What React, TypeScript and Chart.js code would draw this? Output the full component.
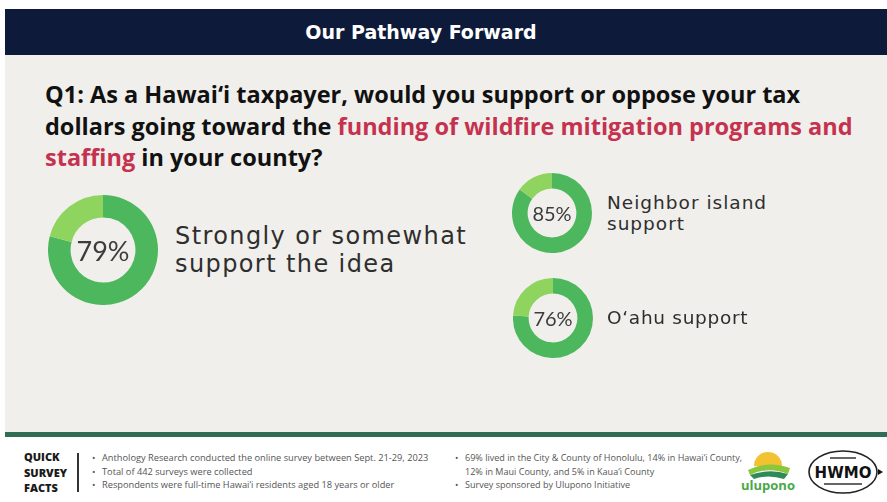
import React, { useEffect, useRef } from "react";
import { Chart, registerables } from "chart.js";
Chart.register(...registerables);

const categories = ["Strongly or somewhat\nsupport the idea", "Neighbor island\nsupport", "O\u2018ahu support"];
const supportPct = [79, 85, 76];
const otherPct = [21, 15, 24];
const pctLabels = ["79%", "85%", "76%"];
const segmentColors = ["#4db75d", "#8fd45e"];

const factsLeft = [
  "Anthology Research conducted the online survey between Sept. 21-29, 2023",
  "Total of 442 surveys were collected",
  "Respondents were full-time Hawai\u2018i residents aged 18 years or older",
];
const factsRight = [
  "69% lived in the City & County of Honolulu, 14% in Hawai\u2018i County,\n12% in Maui County, and 5% in Kaua\u2018i County",
  "Survey sponsored by Ulupono Initiative",
];

type DonutProps = { idx: number; left: number; top: number; size: number; cutout: string; fontSize: number };

function Donut({ idx, left, top, size, cutout, fontSize }: DonutProps) {
  const ref = useRef<HTMLCanvasElement>(null);
  useEffect(() => {
    const chart = new Chart(ref.current!, {
      type: "doughnut",
      data: {
        labels: ["Support", "Other"],
        datasets: [{ data: [supportPct[idx], otherPct[idx]], backgroundColor: segmentColors, borderWidth: 0 }],
      },
      options: {
        responsive: false,
        animation: false,
        cutout,
        layout: { padding: 0 },
        plugins: { legend: { display: false }, tooltip: { enabled: false } },
      },
    });
    return () => chart.destroy();
  }, [idx, cutout]);
  return (
    <div style={{ position: "absolute", left, top, width: size, height: size }}>
      <canvas ref={ref} width={size} height={size} style={{ width: size, height: size, display: "block" }} />
      <div
        style={{
          position: "absolute",
          left: 0,
          top: 0,
          width: size,
          height: size,
          display: "flex",
          alignItems: "center",
          justifyContent: "center",
          fontFamily: "Lato, sans-serif",
          fontSize,
          color: "#3c3c3c",
        }}
      >
        {pctLabels[idx]}
      </div>
    </div>
  );
}

export default function App() {
  useEffect(() => {
    document.body.style.margin = "0";
  }, []);
  const q: React.CSSProperties = { color: "#111" };
  const red: React.CSSProperties = { color: "#c5324f" };
  const facts: React.CSSProperties = {
    position: "absolute",
    top: 451,
    fontFamily: "'Open Sans', sans-serif",
    lineHeight: "13.5px",
    color: "#555",
  };
  return (
    <div style={{ position: "relative", width: 887, height: 502, overflow: "hidden", background: "#ffffff" }}>
      {/* header */}
      <div style={{ position: "absolute", left: 5, top: 9, width: 882, height: 46, background: "#0e1a39" }} />
      <div
        style={{
          position: "absolute",
          left: 0,
          top: 9,
          width: 842,
          height: 46,
          lineHeight: "46px",
          textAlign: "center",
          color: "#fff",
          fontFamily: "'DejaVu Sans', sans-serif",
          fontWeight: 700,
          fontSize: 19,
        }}
      >
        Our Pathway Forward
      </div>
      {/* main panel */}
      <div style={{ position: "absolute", left: 5, top: 55, width: 882, height: 377, background: "#f0efeb" }} />
      <div style={{ position: "absolute", left: 5, top: 432, width: 882, height: 5, background: "#2f6d55" }} />
      {/* question */}
      <div
        style={{
          position: "absolute",
          left: 45,
          top: 79,
          width: 840,
          fontFamily: "'Open Sans', sans-serif",
          fontWeight: 700,
          fontSize: 23.5,
          lineHeight: "31.5px",
          whiteSpace: "pre",
        }}
      >
        <span style={q}>Q1: As a Hawai{"\u2018"}i taxpayer, would you support or oppose your tax</span>
        {"\n"}
        <span style={q}>dollars going toward the </span>
        <span style={red}>funding of wildfire mitigation programs and</span>
        {"\n"}
        <span style={red}>staffing</span>
        <span style={q}> in your county?</span>
      </div>
      {/* donuts */}
      <Donut idx={0} left={48} top={195} size={110} cutout="59%" fontSize={27} />
      <Donut idx={1} left={512} top={173} size={80} cutout="61%" fontSize={20} />
      <Donut idx={2} left={513} top={278} size={80} cutout="61%" fontSize={20} />
      {/* labels */}
      <div
        style={{
          position: "absolute",
          left: 175,
          top: 222,
          fontFamily: "'DejaVu Sans', sans-serif",
          fontSize: 24,
          lineHeight: "28px",
          letterSpacing: 1.4,
          color: "#2e2e2e",
          whiteSpace: "pre",
        }}
      >
        {categories[0]}
      </div>
      <div
        style={{
          position: "absolute",
          left: 607,
          top: 192,
          fontFamily: "'DejaVu Sans', sans-serif",
          fontSize: 18.5,
          lineHeight: "21px",
          letterSpacing: 1.0,
          color: "#2e2e2e",
          whiteSpace: "pre",
        }}
      >
        {categories[1]}
      </div>
      <div
        style={{
          position: "absolute",
          left: 607,
          top: 307,
          fontFamily: "'DejaVu Sans', sans-serif",
          fontSize: 18.5,
          lineHeight: "21px",
          letterSpacing: 0.7,
          color: "#2e2e2e",
          whiteSpace: "pre",
        }}
      >
        {categories[2]}
      </div>
      {/* footer */}
      <div
        style={{
          position: "absolute",
          left: 24,
          top: 449,
          fontFamily: "'Open Sans', sans-serif",
          fontWeight: 800,
          fontSize: 11,
          lineHeight: "15.5px",
          color: "#1a1a1a",
          whiteSpace: "pre",
        }}
      >
        {"QUICK\nSURVEY\nFACTS"}
      </div>
      <div style={{ position: "absolute", left: 77, top: 453, width: 1.5, height: 39, background: "#333" }} />
      <div style={{ ...facts, left: 92, fontSize: 9.25 }}>
        {factsLeft.map((t, i) => (
          <div key={i} style={{ display: "flex", whiteSpace: "pre" }}>
            <span style={{ width: 10 }}>{"\u2022"}</span>
            <span>{t}</span>
          </div>
        ))}
      </div>
      <div style={{ ...facts, left: 455, fontSize: 9.05 }}>
        {factsRight.map((t, i) => (
          <div key={i} style={{ display: "flex", whiteSpace: "pre" }}>
            <span style={{ width: 10 }}>{"\u2022"}</span>
            <span>{t}</span>
          </div>
        ))}
      </div>
      {/* ulupono logo */}
      <svg style={{ position: "absolute", left: 740, top: 448 }} width={56} height={46} viewBox="0 0 56 46">
        <path d="M14 18 A14 14 0 0 1 42 18 Z" fill="#f2c230" />
        <path d="M8 22 Q28 12 50 20 L48 26 Q28 18 10 27 Z" fill="#8cc63f" />
        <path d="M10 27 Q30 20 48 26 L44 31 Q28 26 14 31 Z" fill="#2e8b57" />
        <text x="28" y="42" textAnchor="middle" fontFamily="'Open Sans', sans-serif" fontWeight="700" fontSize="13" fill="#4aa84a">
          ulupono
        </text>
      </svg>
      {/* HWMO logo */}
      <svg style={{ position: "absolute", left: 806, top: 447 }} width={78} height={50} viewBox="0 0 78 50">
        <ellipse cx="37" cy="25" rx="34" ry="21" fill="#fff" stroke="#222" strokeWidth="1.6" />
        <text x="37" y="31" textAnchor="middle" fontFamily="'DejaVu Sans', sans-serif" fontWeight="700" fontSize="15" fill="#111">
          HWMO
        </text>
        <rect x="24" y="10" width="26" height="2" fill="#666" />
        <rect x="18" y="36" width="38" height="2" fill="#666" />
        <path d="M72 22 L77 25 L72 28 Z" fill="#111" />
      </svg>
    </div>
  );
}
